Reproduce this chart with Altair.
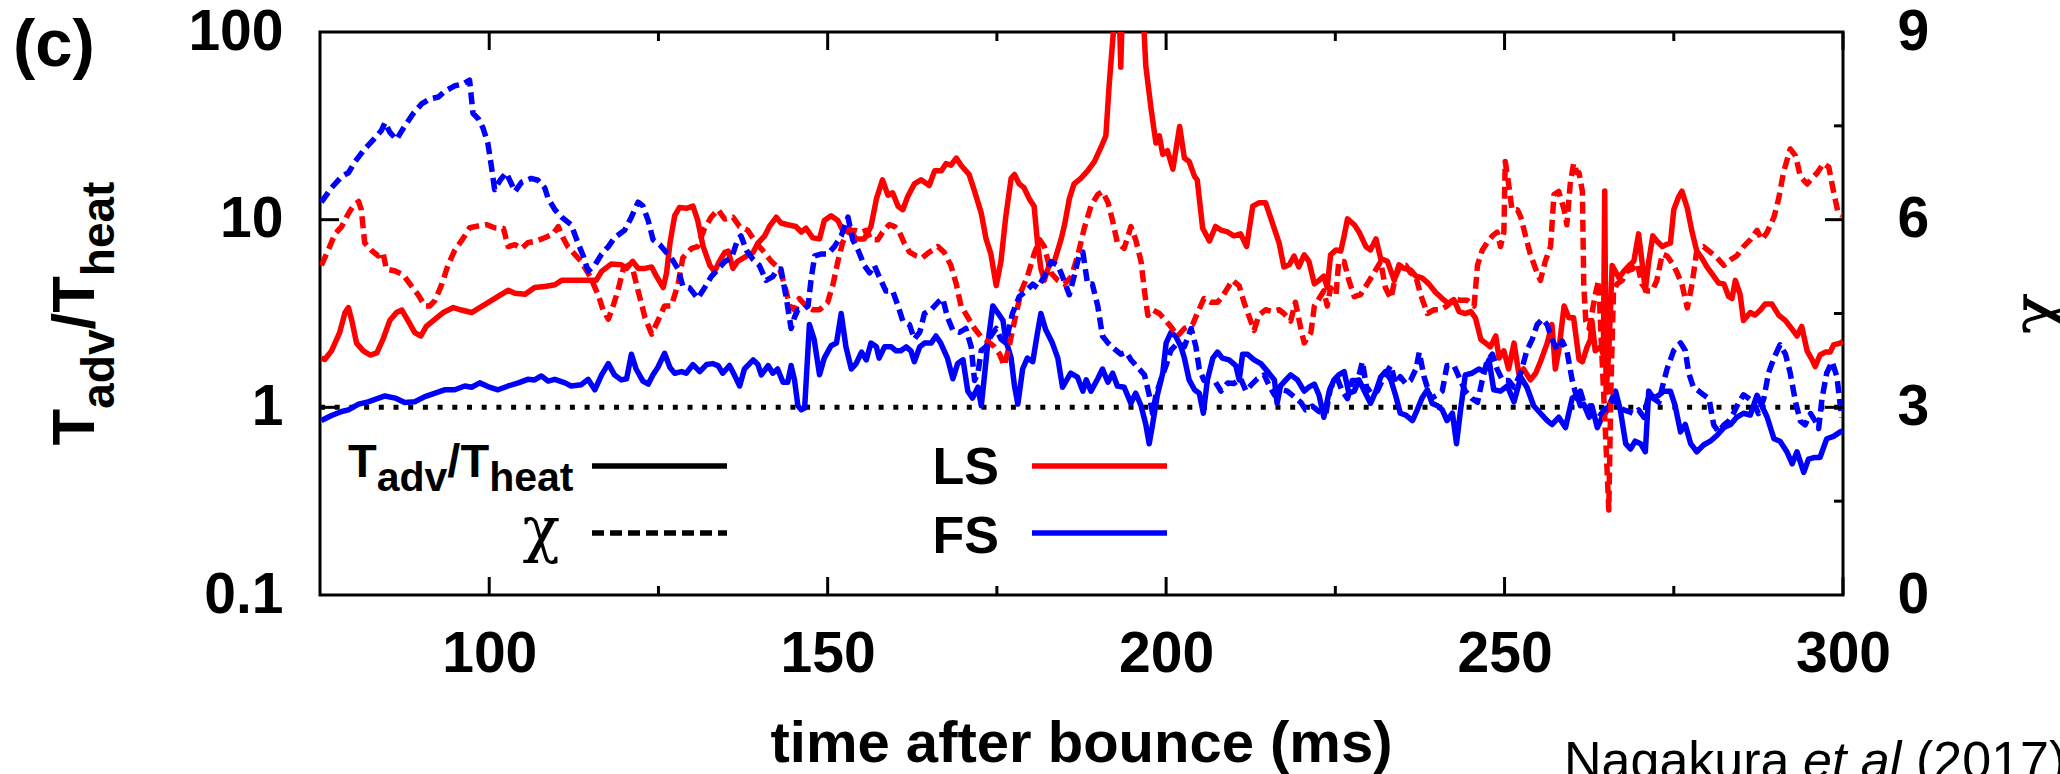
import altair as alt
import pandas as pd

# ---------------- data ----------------
X_LABELS = [100, 150, 200, 250, 300]
X_MINOR = [125, 175, 225, 275]
L_LABELS = [0.1, 1, 10, 100]
L_TICKS = [1, 10]
R_LABELS = [0, 3, 6, 9]
R_TICKS = [3, 6]
R_MINOR = [1.5, 4.5, 7.5]
ONE_LINE = [1]

# LS  T_adv/T_heat (solid red), left log axis
LS_TADV = [
    (75.2, 1.83), (75.7, 1.8), (76.7, 2.0), (77.9, 2.5), (78.7, 3.2), (79.2, 3.4), (79.7, 2.9), (80.4, 2.2),
    (81.4, 2.0), (82.4, 1.9), (83.4, 1.95), (84.3, 2.3), (85.3, 2.9), (86.3, 3.2), (87.1, 3.3), (88.0, 2.9),
    (89.0, 2.5), (89.9, 2.4), (90.7, 2.7), (92.0, 2.95), (93.2, 3.2), (94.7, 3.4), (95.9, 3.3), (97.4, 3.2),
    (98.9, 3.45), (100.3, 3.7), (101.8, 4.0), (102.8, 4.2), (103.8, 4.05), (105.3, 4.0), (106.7, 4.35),
    (108.2, 4.4), (109.7, 4.5), (110.7, 4.75), (113.1, 4.75), (114.6, 4.75), (115.8, 4.75), (116.6, 5.3),
    (118.0, 5.8), (119.5, 5.75), (120.3, 5.5), (121.2, 6.0), (122.0, 5.5), (123.0, 5.5), (124.0, 5.6),
    (124.7, 5.0), (125.7, 4.35), (126.2, 5.2), (126.7, 7.5), (127.4, 10.5), (128.1, 11.6), (129.1, 11.5),
    (130.1, 11.8), (130.8, 9.9), (131.6, 7.2), (132.6, 5.7), (133.3, 5.3), (134.0, 6.0), (134.8, 6.7),
    (135.3, 6.8), (136.0, 5.5), (136.7, 6.0), (138.0, 6.4), (139.0, 6.7), (139.7, 7.5), (140.7, 8.2),
    (141.4, 9.2), (142.4, 10.3), (143.1, 9.6), (144.1, 9.4), (145.3, 9.2), (146.1, 8.6), (146.8, 9.0),
    (147.8, 8.0), (148.8, 7.9), (149.5, 9.9), (150.5, 10.5), (151.5, 9.9), (152.2, 8.8), (153.2, 9.0),
    (154.2, 7.9), (155.4, 7.9), (156.4, 9.2), (157.2, 12.9), (158.1, 16.3), (158.9, 13.5), (159.6, 13.9),
    (160.4, 11.8), (161.1, 11.3), (161.8, 13.2), (162.8, 15.5), (163.8, 16.3), (165.0, 15.2), (165.8, 18.2),
    (166.8, 18.2), (167.5, 19.9), (168.2, 19.5), (169.0, 21.3), (169.7, 19.5), (170.9, 17.4), (171.7, 14.2),
    (172.7, 10.8), (173.4, 7.9), (174.1, 6.6), (174.9, 4.45), (175.6, 6.0), (176.3, 10.3), (177.1, 16.6),
    (177.6, 17.4), (178.3, 15.5), (179.0, 14.8), (179.8, 12.9), (180.5, 11.8), (181.0, 7.5), (181.5, 5.5),
    (182.0, 4.75), (182.7, 5.7), (183.5, 6.0), (184.5, 7.9), (185.0, 9.4), (185.7, 12.9), (186.4, 15.5),
    (187.4, 16.6), (188.4, 18.2), (189.4, 20.4), (190.4, 24.4), (191.1, 28.0), (191.6, 53), (192.3, 110),
    (192.8, 300), (193.3, 65), (193.8, 300), (194.8, 400), (195.8, 400), (196.5, 150), (197.0, 66),
    (197.8, 38.5), (198.5, 25.6), (199.0, 28), (199.5, 22.3), (200.2, 23.3), (201.0, 18.6), (202.0, 31.4),
    (202.7, 21.3), (203.4, 20.4), (204.2, 17.0), (204.6, 16.3), (205.4, 9.0), (206.4, 7.7), (207.3, 9.2),
    (208.1, 8.8), (209.1, 8.6), (210.0, 8.2), (211.0, 8.4), (211.9, 7.2), (212.8, 11.8), (213.7, 12.3),
    (214.7, 12.3), (215.7, 9.6), (216.7, 7.5), (217.4, 5.6), (218.2, 5.75), (218.9, 6.4), (219.6, 5.6),
    (220.4, 6.5), (221.1, 6.0), (221.9, 4.55), (222.6, 4.75), (223.3, 5.0), (223.8, 4.35), (224.3, 6.5),
    (225.1, 6.9), (225.8, 6.8), (226.3, 8.2), (226.8, 10.1), (227.8, 9.4), (228.5, 8.6), (229.5, 7.2),
    (230.2, 6.9), (231.0, 7.9), (231.7, 6.2), (232.7, 6.0), (233.7, 4.75), (234.4, 5.75), (235.1, 5.5),
    (236.1, 5.4), (236.9, 5.0), (237.8, 4.9), (238.8, 4.55), (239.8, 4.1), (240.8, 3.8), (241.8, 3.55),
    (242.5, 3.75), (243.3, 3.24), (244.2, 3.16), (245.0, 3.24), (245.7, 3.0), (246.5, 2.3), (247.2, 2.2),
    (247.9, 2.1), (248.7, 2.4), (249.2, 1.83), (249.9, 2.0), (250.6, 1.6), (251.4, 2.2), (252.1, 1.52),
    (252.8, 1.6), (253.8, 1.4), (254.6, 1.52), (255.3, 1.75), (256.3, 2.2), (257.0, 2.76), (257.5, 1.6),
    (258.0, 2.0), (258.8, 3.47), (259.5, 3.0), (260.2, 3.0), (261.0, 1.8), (261.5, 1.75), (262.2, 2.1),
    (262.7, 2.3), (262.9, 2.9), (263.4, 2.0), (264.2, 2.1), (264.6, 1.9), (264.8, 14.2), (265.0, 1.2),
    (265.4, 2.0), (265.9, 5.7), (266.9, 4.9), (267.6, 5.3), (268.4, 5.7), (269.1, 6.0), (269.8, 8.4),
    (270.3, 6.0), (270.8, 4.2), (271.3, 6.0), (271.9, 8.2), (272.5, 7.7), (273.3, 7.2), (274.0, 7.4),
    (274.5, 7.5), (275.0, 11.3), (275.7, 13.2), (276.2, 14.2), (277.0, 11.5), (277.7, 8.6), (278.4, 6.8),
    (279.2, 6.2), (279.9, 5.6), (280.9, 5.0), (281.6, 4.6), (282.4, 4.55), (283.1, 3.9), (283.6, 3.8),
    (284.1, 4.75), (284.8, 4.0), (285.3, 2.9), (286.3, 3.2), (287.0, 3.1), (287.8, 3.3), (288.5, 3.55),
    (289.5, 3.55), (290.5, 3.1), (291.5, 2.9), (292.5, 2.6), (293.2, 2.4), (293.9, 2.7), (294.7, 2.0),
    (295.4, 1.8), (295.9, 1.65), (296.6, 1.9), (297.4, 1.97), (298.1, 1.97), (298.6, 2.15), (299.6, 2.2),
    (300.0, 2.25),
]

# FS  T_adv/T_heat (solid blue), left log axis
FS_TADV = [
    (75.2, 0.85), (76.7, 0.905), (78.2, 0.95), (79.2, 0.97), (80.7, 1.04), (82.1, 1.07), (84.6, 1.15),
    (86.1, 1.12), (87.5, 1.06), (89.0, 1.07), (90.5, 1.14), (92.0, 1.19), (93.4, 1.24), (94.9, 1.24),
    (96.4, 1.30), (97.4, 1.28), (98.6, 1.35), (99.8, 1.29), (101.3, 1.24), (102.8, 1.30), (104.3, 1.35),
    (105.7, 1.41), (106.7, 1.40), (107.7, 1.47), (108.7, 1.38), (109.7, 1.41), (111.2, 1.35), (112.1, 1.30),
    (113.6, 1.32), (114.6, 1.41), (115.6, 1.24), (116.6, 1.49), (117.6, 1.71), (118.5, 1.49), (119.5, 1.40),
    (120.3, 1.42), (121.0, 1.92), (121.7, 1.60), (122.7, 1.38), (123.5, 1.33), (124.2, 1.49), (124.9, 1.63),
    (125.9, 1.94), (126.7, 1.63), (127.4, 1.52), (128.4, 1.55), (129.1, 1.52), (130.1, 1.69), (131.1, 1.55),
    (132.1, 1.69), (133.0, 1.71), (133.8, 1.67), (134.5, 1.52), (135.5, 1.67), (136.2, 1.49), (137.0, 1.30),
    (137.7, 1.60), (139.0, 1.79), (139.7, 1.69), (140.2, 1.49), (141.2, 1.67), (141.9, 1.52), (142.6, 1.60),
    (143.4, 1.36), (144.1, 1.36), (144.6, 1.67), (145.1, 1.40), (145.6, 1.02), (146.1, 0.97), (146.6, 0.99),
    (147.3, 2.76), (148.0, 2.3), (148.8, 1.49), (149.5, 1.83), (150.5, 2.13), (151.3, 2.2), (152.0, 3.16),
    (152.7, 2.1), (153.5, 1.60), (154.2, 1.71), (155.0, 1.97), (155.7, 1.79), (156.4, 2.2), (157.2, 2.1),
    (157.6, 1.83), (158.4, 2.1), (159.4, 2.1), (160.1, 2.0), (160.8, 2.0), (161.6, 2.1), (162.3, 2.0),
    (162.8, 1.75), (163.6, 2.1), (164.3, 2.2), (165.3, 2.2), (166.0, 2.4), (166.7, 2.2), (167.7, 1.83),
    (168.5, 1.42), (169.2, 1.71), (170.0, 1.79), (170.7, 1.22), (171.4, 1.12), (172.2, 1.28), (172.7, 1.02),
    (173.1, 1.40), (173.6, 2.1), (174.4, 3.47), (175.1, 3.2), (175.9, 2.9), (176.3, 2.3), (177.1, 1.83),
    (177.6, 1.30), (178.1, 1.04), (178.8, 1.6), (179.5, 1.83), (180.3, 1.75), (181.0, 2.5), (181.5, 3.16),
    (182.2, 2.6), (183.2, 2.2), (184.0, 1.83), (184.7, 1.28), (185.9, 1.52), (186.9, 1.45), (187.7, 1.22),
    (188.2, 1.40), (188.9, 1.22), (189.9, 1.42), (190.6, 1.60), (191.4, 1.36), (192.1, 1.52), (192.8, 1.30),
    (193.8, 1.28), (194.8, 1.05), (195.5, 1.19), (196.3, 1.02), (197.0, 0.81), (197.5, 0.64), (198.0, 0.81),
    (198.7, 1.16), (199.5, 1.52), (200.0, 2.2), (200.7, 2.5), (201.4, 2.4), (202.2, 2.1), (202.7, 1.83),
    (203.4, 1.40), (204.2, 1.24), (204.9, 1.19), (205.5, 0.93), (206.1, 1.40), (206.9, 1.83), (207.6, 1.97),
    (208.3, 1.83), (209.3, 1.79), (210.3, 1.67), (210.8, 1.40), (211.3, 1.92), (212.0, 1.92), (213.0, 1.79),
    (214.0, 1.71), (215.0, 1.55), (216.0, 1.40), (216.4, 1.05), (216.9, 1.30), (217.7, 1.40), (218.4, 1.49),
    (219.4, 1.40), (220.4, 1.22), (221.1, 1.28), (221.9, 1.33), (222.6, 1.16), (223.3, 0.885), (224.1, 1.22),
    (224.8, 1.40), (225.5, 1.49), (226.3, 1.55), (227.0, 1.19), (227.8, 1.22), (228.5, 1.40), (229.2, 1.24),
    (230.2, 1.05), (231.0, 1.22), (231.7, 1.45), (232.4, 1.55), (233.2, 1.40), (233.9, 1.16), (234.6, 0.93),
    (235.4, 0.91), (236.4, 0.85), (237.1, 0.97), (237.8, 1.12), (238.6, 1.24), (239.3, 1.05), (240.1, 1.02),
    (240.8, 0.97), (241.5, 0.85), (242.3, 0.93), (242.9, 0.64), (243.5, 0.97), (244.2, 1.49), (245.2, 1.52),
    (246.2, 1.60), (247.0, 1.55), (247.7, 1.79), (248.4, 1.24), (249.4, 1.22), (250.4, 1.30), (251.4, 1.07),
    (252.4, 1.45), (253.3, 1.28), (254.3, 1.02), (255.3, 0.93), (256.3, 0.85), (257.0, 0.81), (258.0, 0.885),
    (259.0, 0.78), (260.0, 1.12), (260.7, 1.16), (261.2, 1.02), (261.7, 1.04), (262.5, 0.885), (262.9, 1.02),
    (263.7, 0.78), (264.4, 0.885), (265.2, 0.97), (265.9, 1.12), (266.4, 1.22), (267.1, 0.97), (267.9, 0.64),
    (268.6, 0.60), (269.3, 0.66), (270.1, 0.64), (270.8, 0.58), (271.3, 1.22), (272.0, 1.12), (272.8, 1.16),
    (273.5, 1.22), (274.5, 1.22), (275.2, 1.02), (276.0, 0.74), (276.7, 0.81), (277.5, 0.64), (278.4, 0.58),
    (279.4, 0.63), (280.4, 0.66), (281.4, 0.71), (282.4, 0.78), (283.4, 0.81), (284.3, 0.885), (285.3, 0.93),
    (286.3, 0.91), (287.3, 1.16), (288.0, 1.02), (288.8, 0.885), (289.8, 0.68), (290.7, 0.66), (291.7, 0.58),
    (292.5, 0.50), (293.2, 0.58), (294.2, 0.45), (294.9, 0.53), (295.7, 0.54), (296.6, 0.54), (297.6, 0.68),
    (298.6, 0.70), (299.6, 0.74), (300.0, 0.75),
]

# FS  chi (dashed blue), right linear axis
FS_CHI = [
    (75.2, 6.28), (76.7, 6.51), (78.2, 6.69), (79.2, 6.75), (80.2, 6.93), (81.6, 7.13), (82.9, 7.28),
    (84.1, 7.43), (84.6, 7.55), (85.3, 7.40), (86.3, 7.28), (87.3, 7.46), (88.8, 7.70), (90.0, 7.85),
    (91.2, 7.93), (92.5, 7.96), (93.4, 8.05), (94.9, 8.14), (96.2, 8.17), (97.1, 8.23), (97.6, 7.70),
    (98.4, 7.61), (99.1, 7.46), (99.8, 7.22), (100.3, 6.87), (100.8, 6.48), (101.6, 6.63), (102.5, 6.75),
    (103.3, 6.57), (103.8, 6.45), (104.8, 6.60), (106.2, 6.66), (107.2, 6.63), (108.2, 6.51), (108.7, 6.34),
    (109.7, 6.16), (110.7, 6.04), (112.1, 5.92), (113.1, 5.63), (113.9, 5.42), (114.6, 5.18), (115.6, 5.27),
    (116.6, 5.45), (117.6, 5.57), (118.5, 5.71), (120.0, 5.83), (121.0, 6.04), (122.0, 6.28), (122.7, 6.22),
    (123.5, 5.98), (124.2, 5.68), (125.2, 5.60), (125.9, 5.51), (126.9, 5.39), (127.9, 5.21), (128.6, 4.94),
    (129.6, 4.91), (130.8, 4.74), (131.8, 4.91), (132.8, 5.09), (133.8, 5.21), (134.8, 5.33), (135.8, 5.39),
    (136.7, 5.68), (137.2, 5.74), (138.0, 5.51), (139.0, 5.36), (139.9, 5.27), (140.9, 5.03), (141.9, 5.09),
    (142.6, 5.21), (143.1, 5.21), (143.9, 4.74), (144.6, 4.26), (145.1, 4.44), (145.6, 4.56), (146.3, 4.56),
    (147.1, 4.62), (147.6, 5.09), (148.1, 5.42), (149.0, 5.45), (150.0, 5.45), (151.0, 5.57), (152.0, 5.74),
    (153.0, 6.04), (153.7, 5.68), (154.5, 5.51), (155.4, 5.27), (156.2, 5.15), (156.9, 5.27), (157.6, 5.09),
    (158.6, 4.86), (159.6, 4.86), (160.4, 4.62), (161.1, 4.38), (162.1, 4.32), (162.8, 4.09), (163.6, 4.20),
    (164.3, 4.50), (165.3, 4.56), (166.3, 4.68), (167.0, 4.74), (167.7, 4.44), (168.5, 4.23), (169.5, 4.20),
    (170.4, 4.26), (171.2, 3.97), (171.7, 3.43), (172.2, 3.55), (172.7, 3.91), (173.4, 3.97), (174.1, 4.14),
    (174.9, 4.26), (175.6, 4.09), (176.3, 4.03), (177.3, 4.50), (178.3, 4.77), (179.3, 4.86), (180.3, 4.97),
    (181.0, 4.91), (182.0, 5.09), (183.0, 5.33), (184.0, 5.27), (184.7, 5.09), (185.7, 4.80), (186.4, 5.09),
    (187.2, 5.45), (187.7, 5.48), (188.4, 4.97), (189.1, 4.97), (189.9, 4.62), (190.6, 4.14), (191.4, 4.03),
    (192.3, 3.94), (193.3, 3.85), (194.1, 3.88), (194.8, 3.76), (195.8, 3.64), (196.8, 3.52), (197.5, 3.20),
    (198.0, 2.90), (198.5, 3.20), (199.2, 3.43), (200.0, 3.67), (200.7, 3.91), (201.7, 4.03), (202.7, 3.97),
    (203.7, 4.26), (204.4, 3.97), (204.9, 3.61), (205.6, 3.43), (206.6, 3.43), (207.3, 3.40), (208.1, 3.26),
    (209.1, 3.39), (210.0, 3.38), (211.0, 3.46), (211.8, 3.26), (212.5, 3.35), (213.5, 3.46), (214.5, 3.52),
    (215.2, 3.35), (216.0, 3.20), (216.9, 3.29), (217.9, 3.26), (218.9, 3.17), (219.9, 3.08), (220.6, 2.96),
    (221.6, 3.02), (222.6, 2.93), (223.6, 2.90), (224.3, 3.32), (225.3, 3.46), (226.0, 3.26), (226.8, 3.14),
    (227.5, 3.43), (228.3, 3.43), (229.0, 3.73), (229.7, 3.26), (230.5, 3.32), (231.2, 3.26), (232.2, 3.49),
    (233.2, 3.67), (233.9, 3.38), (234.6, 3.49), (235.4, 3.38), (236.1, 3.43), (236.9, 3.61), (237.4, 3.88),
    (238.1, 3.49), (239.1, 3.14), (240.1, 3.20), (240.8, 3.26), (241.5, 3.67), (242.5, 3.67), (243.5, 3.43),
    (244.2, 3.26), (245.2, 3.14), (246.0, 3.08), (246.7, 3.43), (247.4, 3.73), (248.2, 3.85), (248.9, 3.61),
    (249.7, 3.43), (250.6, 3.43), (251.4, 3.32), (252.4, 3.55), (253.3, 3.91), (254.1, 4.09), (254.8, 4.32),
    (255.6, 4.41), (256.3, 4.32), (257.0, 4.09), (257.8, 3.91), (258.5, 4.06), (259.2, 3.91), (260.0, 3.43),
    (260.7, 3.14), (261.2, 3.26), (261.7, 3.08), (262.5, 3.02), (263.2, 2.90), (263.9, 2.84), (264.7, 2.96),
    (265.4, 3.02), (266.1, 3.14), (266.9, 3.02), (267.6, 2.96), (268.4, 2.93), (269.1, 2.90), (269.8, 2.96),
    (270.6, 2.84), (271.3, 3.20), (272.0, 3.14), (272.8, 3.08), (273.3, 3.32), (274.0, 3.61), (275.0, 3.91),
    (276.0, 4.03), (276.7, 3.91), (277.2, 3.55), (277.9, 3.32), (278.7, 3.26), (279.4, 3.20), (280.2, 3.14),
    (280.9, 2.72), (281.6, 2.61), (282.4, 2.72), (283.1, 2.78), (283.8, 2.90), (284.6, 3.08), (285.3, 3.20),
    (286.1, 3.14), (286.8, 3.08), (287.5, 2.90), (288.3, 3.14), (289.0, 3.55), (289.8, 3.79), (290.7, 4.00),
    (291.5, 3.85), (292.2, 3.55), (293.0, 3.08), (293.7, 2.78), (294.4, 2.72), (295.2, 2.90), (295.9, 2.78),
    (296.4, 2.66), (296.9, 3.14), (297.6, 3.55), (298.4, 3.73), (299.1, 3.49), (299.8, 2.84),
]

# LS  chi (dashed red), right linear axis
LS_CHI = [
    (75.2, 5.27), (76.2, 5.51), (77.2, 5.77), (78.2, 5.89), (79.2, 6.10), (79.9, 6.22), (80.7, 6.29),
    (81.1, 6.16), (81.6, 5.63), (82.6, 5.51), (83.6, 5.42), (84.3, 5.48), (84.8, 5.21), (86.1, 5.18),
    (87.3, 5.12), (88.3, 4.97), (89.5, 4.80), (90.5, 4.62), (91.2, 4.62), (92.0, 4.71), (93.0, 4.97),
    (93.9, 5.27), (94.9, 5.51), (96.2, 5.71), (97.1, 5.87), (98.4, 5.90), (99.6, 5.92), (100.8, 5.87),
    (102.1, 5.86), (102.8, 5.57), (103.8, 5.60), (104.8, 5.54), (105.7, 5.63), (107.0, 5.66), (108.2, 5.71),
    (109.4, 5.77), (110.2, 5.89), (110.9, 5.71), (111.6, 5.57), (113.6, 5.33), (114.9, 5.09), (116.1, 4.80),
    (116.8, 4.56), (117.6, 4.41), (118.3, 4.62), (119.0, 4.86), (119.8, 5.21), (120.5, 5.27), (121.2, 5.21),
    (122.0, 4.86), (123.0, 4.44), (124.0, 4.17), (124.9, 4.38), (125.9, 4.62), (126.9, 4.62), (127.9, 4.97),
    (128.6, 5.39), (129.9, 5.54), (130.8, 5.57), (131.8, 5.86), (132.8, 6.04), (133.8, 6.16), (134.8, 6.01),
    (136.0, 6.04), (137.0, 5.89), (138.2, 5.83), (139.4, 5.63), (140.4, 5.51), (141.7, 5.33), (142.9, 5.21),
    (143.6, 4.97), (144.4, 4.62), (145.1, 4.56), (145.8, 4.74), (146.8, 4.62), (147.8, 4.56), (148.8, 4.56),
    (150.0, 4.68), (150.8, 4.97), (151.5, 5.33), (152.2, 5.63), (153.0, 5.80), (154.0, 5.83), (155.0, 5.80),
    (155.7, 5.83), (156.4, 5.68), (157.4, 5.68), (158.1, 5.80), (159.1, 5.92), (159.9, 5.89), (160.6, 5.80),
    (161.3, 5.63), (162.1, 5.48), (163.1, 5.42), (164.0, 5.39), (165.0, 5.48), (166.3, 5.57), (167.2, 5.48),
    (168.2, 5.27), (169.0, 4.97), (169.7, 4.62), (170.7, 4.44), (171.7, 4.26), (172.7, 4.12), (173.6, 4.06),
    (174.6, 3.97), (175.4, 3.85), (176.1, 3.67), (176.8, 3.97), (177.6, 4.38), (178.6, 4.86), (179.5, 5.09),
    (180.5, 5.45), (181.3, 5.68), (182.0, 5.57), (183.0, 5.15), (184.0, 5.03), (185.0, 4.97), (186.0, 5.09),
    (187.0, 5.45), (187.9, 5.86), (188.9, 6.22), (189.9, 6.40), (190.6, 6.45), (191.4, 6.28), (192.1, 5.98),
    (192.8, 5.63), (193.8, 5.54), (194.8, 5.89), (195.5, 5.68), (196.3, 5.33), (196.8, 4.86), (197.3, 4.47),
    (198.0, 4.56), (199.0, 4.50), (200.0, 4.38), (200.7, 4.29), (201.7, 4.14), (202.7, 4.26), (203.9, 4.32),
    (204.6, 4.50), (205.6, 4.74), (206.6, 4.68), (207.6, 4.68), (208.3, 4.77), (209.1, 4.91), (209.8, 5.03),
    (210.8, 4.94), (211.5, 4.68), (212.3, 4.44), (213.0, 4.23), (213.7, 4.47), (214.7, 4.56), (215.7, 4.53),
    (216.7, 4.56), (217.4, 4.50), (218.4, 4.38), (219.1, 4.68), (219.9, 4.26), (220.4, 4.03), (221.4, 4.20),
    (221.9, 4.62), (222.6, 4.74), (223.3, 4.86), (223.8, 4.62), (224.3, 4.91), (225.1, 4.80), (225.5, 5.33),
    (226.3, 5.33), (227.0, 5.03), (227.8, 4.77), (228.7, 4.80), (229.7, 4.97), (230.7, 5.15), (231.7, 5.33),
    (232.4, 4.91), (233.2, 4.74), (233.9, 5.09), (234.6, 5.27), (235.4, 5.27), (236.1, 5.15), (236.9, 5.09),
    (237.6, 4.80), (238.6, 4.50), (239.6, 4.56), (240.5, 4.56), (241.5, 4.62), (242.5, 4.74), (243.5, 4.71),
    (244.5, 4.71), (245.5, 4.62), (246.0, 5.27), (246.7, 5.51), (247.4, 5.63), (248.2, 5.74), (248.9, 5.80),
    (249.4, 5.57), (249.9, 5.80), (250.1, 6.93), (250.6, 6.57), (251.1, 6.16), (251.9, 6.16), (252.4, 6.04),
    (253.1, 5.74), (253.8, 5.45), (254.6, 5.21), (255.3, 5.03), (256.0, 5.33), (256.8, 5.57), (257.3, 6.40),
    (258.0, 6.45), (258.8, 6.16), (259.2, 5.92), (259.7, 6.57), (260.2, 6.90), (260.7, 6.75), (261.0, 6.75),
    (261.5, 6.45), (261.7, 4.97), (262.0, 4.38), (262.5, 4.26), (262.9, 4.50), (263.4, 4.80), (263.9, 5.03),
    (264.4, 3.79), (264.9, 2.61), (265.4, 1.36), (265.7, 3.20), (265.9, 4.09), (266.1, 4.86), (266.6, 4.97),
    (267.4, 5.03), (268.1, 5.18), (268.9, 5.21), (269.6, 5.30), (270.3, 4.97), (271.1, 4.86), (271.8, 4.86),
    (272.5, 5.03), (273.3, 5.45), (274.0, 5.42), (274.8, 5.30), (275.5, 5.15), (276.2, 4.97), (277.0, 4.59),
    (277.7, 4.97), (278.4, 5.51), (279.4, 5.57), (280.4, 5.48), (281.4, 5.39), (282.4, 5.27), (283.4, 5.36),
    (284.3, 5.42), (285.3, 5.57), (286.3, 5.68), (287.3, 5.83), (288.0, 5.68), (288.8, 5.80), (289.8, 6.04),
    (290.5, 6.34), (291.2, 6.75), (292.2, 7.13), (293.0, 7.02), (293.7, 6.69), (294.7, 6.57), (295.4, 6.66),
    (296.2, 6.75), (297.1, 6.90), (297.9, 6.84), (298.6, 6.45), (299.3, 6.10), (299.8, 6.07),
]

# ---------------- layout / style ----------------
W, H = 1523, 563
FONT = "Liberation Sans"
RED, BLUE, BLACK = "#ff0000", "#0000ff", "#000000"
LW = 5.5
DASH = [12, 6]

xscale = alt.Scale(domain=[75, 300], nice=False, zero=False)
lscale = alt.Scale(type="log", domain=[0.1, 100], nice=False)
cscale = alt.Scale(domain=[0, 9], nice=False, zero=False)

common_axis = dict(ticks=False, domain=False, grid=False, labelFont=FONT, labelFontSize=57,
                   labelFontWeight="bold", labelColor=BLACK, labelFlush=False,
                   labelOverlap=False, title=None)
xaxis = alt.Axis(values=X_LABELS, format="d", labelPadding=31, **common_axis)
laxis = alt.Axis(values=L_LABELS, format="~g", orient="left", labelPadding=37, **common_axis)
raxis = alt.Axis(values=R_LABELS, format="d", orient="right", labelPadding=54, **common_axis)

X = alt.X("t:Q", scale=xscale, axis=xaxis)
YL = alt.Y("v:Q", scale=lscale, axis=laxis)
YR = alt.Y("c:Q", scale=cscale, axis=raxis)


def frame(pairs, col):
    return pd.DataFrame(pairs, columns=["t", col])


def line(pairs, col, color, dash=None):
    kw = dict(color=color, strokeWidth=LW, clip=True, strokeJoin="round")
    if dash:
        kw["strokeDash"] = dash
    return alt.Chart(frame(pairs, col)).mark_line(**kw).encode(x=X, y=YL if col == "v" else YR)


def xticks(vals, y0, y1):
    return alt.Chart(pd.DataFrame({"t": vals})).mark_rule(color=BLACK, strokeWidth=3).encode(
        x=X, y=alt.value(y0), y2=alt.value(y1))


def yticks(vals, col, x0, x1):
    return alt.Chart(pd.DataFrame({col: vals})).mark_rule(color=BLACK, strokeWidth=3).encode(
        y=YL if col == "v" else YR, x=alt.value(x0), x2=alt.value(x1))


dotted = alt.Chart(pd.DataFrame({"v": ONE_LINE})).mark_rule(
    color=BLACK, strokeWidth=5, strokeDash=[5, 9.7]).encode(y=YL, x=alt.value(0), x2=alt.value(W))

left = alt.layer(
    dotted,
    line(LS_TADV, "v", RED),
    line(FS_TADV, "v", BLUE),
    yticks(L_TICKS, "v", 0, 19),
    xticks(X_LABELS, H, H - 18), xticks(X_MINOR, H, H - 9),
    xticks(X_LABELS, 0, 18), xticks(X_MINOR, 0, 9),
)
right = alt.layer(
    line(LS_CHI, "c", RED, DASH),
    line(FS_CHI, "c", BLUE, DASH),
    yticks(R_TICKS, "c", W - 18, W),
    yticks(R_MINOR, "c", W - 9, W),
)

ONE = alt.Data(values=[{}])


def txt(s, x, y, size, weight="bold", align="left", baseline="alphabetic", angle=0,
        font=FONT, style="normal"):
    return alt.Chart(ONE).mark_text(
        text=s, fontSize=size, fontWeight=weight, font=font, fontStyle=style, align=align,
        baseline=baseline, angle=angle, color=BLACK).encode(x=alt.value(x), y=alt.value(y))


def hrule(x0, x1, y, color, dash=None):
    kw = dict(color=color, strokeWidth=LW)
    if dash:
        kw["strokeDash"] = dash
    return alt.Chart(ONE).mark_rule(**kw).encode(x=alt.value(x0), x2=alt.value(x1), y=alt.value(y))


BOLD_W = {"T": 611, "a": 556, "d": 611, "v": 556, "/": 278, "h": 611, "e": 556, "t": 333}


def tw(s, size):
    return sum(BOLD_W[c] for c in s) * size / 1000.0


def rich(big, sub, shift, pos0, base, rotated=False):
    pieces = [("T", big, 0), ("adv", sub, shift), ("/", big, 0), ("T", big, 0), ("heat", sub, shift)]
    total = sum(tw(s, z) for s, z, _ in pieces)
    out = []
    p = pos0 + (total / 2.0 if rotated else 0)
    for s, z, sh in pieces:
        if rotated:
            out.append(txt(s, base + sh, p, z, angle=270))
            p -= tw(s, z)
        else:
            out.append(txt(s, p, base + sh, z))
            p += tw(s, z)
    return out


ann = []
ann += rich(60, 46, 20, H / 2.0, -226, rotated=True)          # left axis title
ann += rich(47, 41, 14, 28, 445)                               # legend label
ann.append(txt("χ", 1719, H / 2.0, 70, weight="normal", align="center", baseline="middle",
               angle=270, font="DejaVu Serif"))
ann.append(txt("χ", 240, 518, 62, weight="normal", align="right", font="DejaVu Serif"))
ann.append(txt("LS", 679, 452, 52, align="right"))
ann.append(txt("FS", 679, 521, 52, align="right"))
ann.append(txt("time after bounce (ms)", W / 2.0, 730, 58, align="center"))
ann.append(txt("(c)", -307, 34, 67))
ann.append(txt("Nagakura", 1244, 746, 52, weight="normal"))
ann.append(txt("et al", 1483, 746, 52, weight="normal", style="italic"))
ann.append(txt("(2017)", 1596, 746, 52, weight="normal"))
ann += [
    hrule(272, 407, 434, BLACK), hrule(272, 407, 501, BLACK, DASH),
    hrule(712, 847, 434, RED), hrule(712, 847, 501, BLUE),
]

chart = alt.layer(left, right, *ann).resolve_scale(y="independent").properties(
    width=W, height=H,
    autosize=alt.AutoSizeParams(type="none"),
    padding={"left": 320, "top": 32, "right": 217, "bottom": 179},
    background="white",
).configure_view(stroke=BLACK, strokeWidth=3)

chart.save("out.html", embed_options={"renderer": "svg", "actions": False})
